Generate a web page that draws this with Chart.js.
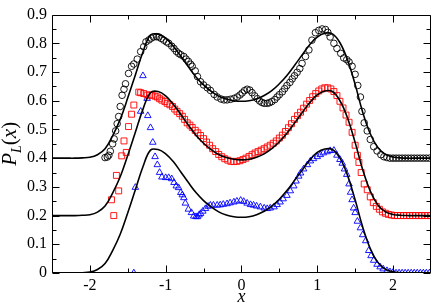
<!DOCTYPE html>
<html>
<head>
<meta charset="utf-8">
<script src="https://cdn.jsdelivr.net/npm/chart.js@4.4.1/dist/chart.umd.min.js"></script>
<style>
html, body { margin: 0; padding: 0; background: #fff; }
</style>
</head>
<body>
<canvas id="chartPL" width="436" height="303"></canvas>
<script>
// tick positions
const xMajor = [-2, -1, 0, 1, 2];
const xMinor = [-1.5, -0.5, 0.5, 1.5];
const yMajor = [0, 0.1, 0.2, 0.3, 0.4, 0.5, 0.6, 0.7, 0.8, 0.9];
const yMinor = [0.05, 0.15, 0.25, 0.35, 0.45, 0.55, 0.65, 0.75, 0.85];

// theory curves (solid lines)
const curveX = [-2.5,-2.4,-2.3,-2.2,-2.1,-2.0,-1.9,-1.8,-1.7,-1.6,-1.5,-1.4,-1.3,-1.2,-1.1,-1.0,-0.9,-0.8,-0.7,-0.6,-0.5,-0.4,-0.3,-0.2,-0.1,0,0.1,0.2,0.3,0.4,0.5,0.6,0.7,0.8,0.9,1.0,1.1,1.2,1.3,1.4,1.5,1.6,1.7,1.8,1.9,2.0,2.1,2.2,2.3,2.4,2.5];
const curveLow = [0,0,0,0,0.001,0.003,0.012,0.033,0.078,0.135,0.21,0.29,0.37,0.428,0.43,0.415,0.388,0.352,0.315,0.28,0.252,0.23,0.213,0.202,0.196,0.194,0.196,0.203,0.215,0.233,0.257,0.287,0.322,0.358,0.393,0.42,0.432,0.43,0.4,0.34,0.255,0.16,0.085,0.037,0.013,0.004,0.001,0,0,0,0];
const curveMid = [0.2,0.2,0.2,0.2,0.201,0.203,0.212,0.233,0.278,0.335,0.41,0.49,0.57,0.628,0.632,0.617,0.588,0.552,0.515,0.48,0.452,0.43,0.413,0.402,0.396,0.394,0.396,0.403,0.415,0.433,0.457,0.487,0.522,0.558,0.593,0.62,0.634,0.632,0.6,0.54,0.455,0.36,0.285,0.237,0.213,0.204,0.201,0.2,0.2,0.2,0.2];
const curveTop = [0.4,0.4,0.4,0.4,0.401,0.403,0.412,0.433,0.478,0.535,0.61,0.69,0.77,0.829,0.832,0.818,0.79,0.755,0.718,0.683,0.655,0.633,0.616,0.606,0.6,0.598,0.6,0.606,0.618,0.635,0.659,0.688,0.723,0.759,0.795,0.822,0.835,0.833,0.802,0.742,0.657,0.56,0.485,0.437,0.413,0.404,0.401,0.4,0.4,0.4,0.4];

// simulation points: black circles
const circX = [-1.80,-1.77,-1.75,-1.73,-1.70,-1.68,-1.66,-1.64,-1.62,-1.60,-1.575,-1.55,-1.53,-1.49,-1.45,-1.42,-1.375,-1.33,-1.29,-1.26,-1.22,-1.19,-1.16,-1.12,-1.09,-1.06,-1.025,-0.99,-0.96,-0.92,-0.89,-0.86,-0.83,-0.80,-0.76,-0.73,-0.70,-0.67,-0.65,-0.61,-0.58,-0.54,-0.50,-0.45,-0.41,-0.36,-0.32,-0.27,-0.23,-0.19,-0.145,-0.10,-0.057,-0.02,0.01,0.04,0.075,0.11,0.14,0.175,0.21,0.24,0.27,0.30,0.34,0.37,0.40,0.44,0.47,0.50,0.54,0.57,0.60,0.64,0.67,0.70,0.735,0.77,0.80,0.845,0.89,0.93,0.976,1.02,1.065,1.11,1.14,1.17,1.22,1.26,1.31,1.35,1.39,1.42,1.46,1.50,1.535,1.57,1.59,1.62,1.66,1.70,1.745,1.79,1.84,1.88,1.92,1.96,2.00,2.04,2.08,2.12,2.16,2.20,2.24,2.28,2.32,2.36,2.40,2.44,2.48];
const circY = [0.402,0.404,0.41,0.424,0.45,0.467,0.495,0.52,0.545,0.58,0.619,0.64,0.659,0.695,0.72,0.728,0.745,0.771,0.788,0.805,0.812,0.818,0.822,0.823,0.822,0.817,0.811,0.805,0.80,0.79,0.782,0.772,0.765,0.76,0.754,0.745,0.737,0.727,0.72,0.704,0.684,0.666,0.655,0.645,0.636,0.622,0.613,0.606,0.603,0.603,0.605,0.608,0.613,0.62,0.627,0.635,0.64,0.637,0.628,0.617,0.607,0.599,0.594,0.591,0.591,0.593,0.597,0.604,0.613,0.621,0.631,0.642,0.653,0.664,0.676,0.687,0.699,0.712,0.73,0.754,0.777,0.811,0.837,0.845,0.85,0.848,0.838,0.822,0.80,0.782,0.765,0.749,0.743,0.735,0.72,0.692,0.653,0.613,0.563,0.523,0.495,0.465,0.44,0.425,0.412,0.405,0.402,0.4,0.4,0.4,0.4,0.4,0.4,0.4,0.4,0.4,0.4,0.4,0.4,0.4,0.4];

// red squares
const sqX = [-1.715,-1.685,-1.65,-1.62,-1.58,-1.55,-1.52,-1.49,-1.45,-1.42,-1.355,-1.33,-1.29,-1.245,-1.21,-1.18,-1.14,-1.11,-1.08,-1.05,-1.01,-0.98,-0.945,-0.91,-0.88,-0.85,-0.815,-0.78,-0.75,-0.716,-0.68,-0.65,-0.61,-0.575,-0.54,-0.50,-0.46,-0.42,-0.38,-0.34,-0.30,-0.26,-0.22,-0.18,-0.14,-0.10,-0.06,-0.02,0.02,0.06,0.10,0.14,0.18,0.22,0.26,0.30,0.34,0.38,0.42,0.46,0.50,0.54,0.58,0.62,0.66,0.70,0.74,0.78,0.82,0.86,0.90,0.94,0.98,1.02,1.06,1.10,1.14,1.18,1.22,1.26,1.30,1.34,1.38,1.42,1.46,1.50,1.53,1.55,1.58,1.62,1.66,1.70,1.74,1.78,1.82,1.86,1.90,1.94,1.98,2.02,2.06,2.10,2.14,2.18,2.22,2.26,2.30,2.34,2.38,2.42,2.46,2.50];
const sqY = [0.255,0.20,0.34,0.286,0.408,0.46,0.42,0.51,0.553,0.585,0.63,0.628,0.625,0.62,0.62,0.619,0.616,0.613,0.607,0.602,0.597,0.591,0.586,0.58,0.571,0.563,0.555,0.546,0.535,0.523,0.515,0.507,0.497,0.488,0.479,0.468,0.456,0.445,0.433,0.423,0.413,0.405,0.398,0.393,0.389,0.388,0.389,0.391,0.395,0.40,0.406,0.412,0.418,0.423,0.428,0.433,0.439,0.445,0.452,0.46,0.47,0.48,0.493,0.506,0.52,0.535,0.548,0.56,0.574,0.588,0.601,0.614,0.625,0.634,0.641,0.645,0.645,0.641,0.632,0.618,0.598,0.575,0.55,0.525,0.49,0.445,0.41,0.385,0.35,0.31,0.29,0.265,0.245,0.232,0.222,0.213,0.208,0.204,0.202,0.2,0.2,0.2,0.2,0.2,0.2,0.2,0.2,0.2,0.2,0.2,0.2,0.2];

// blue triangles
const triX = [-1.42,-1.40,-1.33,-1.30,-1.245,-1.236,-1.20,-1.17,-1.14,-1.11,-1.08,-1.05,-1.0,-0.96,-0.92,-0.89,-0.86,-0.83,-0.80,-0.78,-0.76,-0.74,-0.70,-0.66,-0.63,-0.60,-0.58,-0.56,-0.54,-0.51,-0.475,-0.44,-0.41,-0.37,-0.32,-0.28,-0.24,-0.19,-0.15,-0.10,-0.06,-0.01,0.03,0.075,0.12,0.16,0.20,0.25,0.30,0.34,0.38,0.43,0.47,0.51,0.55,0.60,0.645,0.69,0.72,0.756,0.78,0.82,0.87,0.91,0.95,1.0,1.04,1.08,1.13,1.17,1.22,1.26,1.30,1.33,1.36,1.39,1.42,1.44,1.46,1.48,1.50,1.53,1.57,1.60,1.64,1.68,1.71,1.745,1.79,1.83,1.87,1.92,1.96,2.00,2.04,2.08,2.12,2.16,2.20,2.24,2.28,2.32,2.36,2.40,2.44,2.48];
const triY = [0.0,0.298,0.563,0.687,0.608,0.548,0.506,0.455,0.405,0.377,0.35,0.334,0.332,0.332,0.328,0.315,0.303,0.297,0.28,0.272,0.262,0.243,0.222,0.21,0.198,0.196,0.196,0.202,0.207,0.215,0.224,0.232,0.236,0.236,0.236,0.237,0.239,0.241,0.244,0.247,0.25,0.253,0.249,0.243,0.238,0.236,0.233,0.23,0.226,0.224,0.226,0.23,0.238,0.247,0.258,0.27,0.286,0.303,0.32,0.337,0.348,0.362,0.377,0.39,0.398,0.405,0.412,0.418,0.422,0.426,0.427,0.41,0.395,0.382,0.362,0.343,0.31,0.281,0.255,0.226,0.21,0.18,0.157,0.133,0.112,0.078,0.06,0.044,0.03,0.021,0.014,0.008,0.004,0.002,0,0,0,0,0,0,0,0,0,0,0,0];

const pts = (xs, ys) => xs.map((x, i) => ({x: x, y: ys[i]}));
const serif = "'Liberation Serif', 'Times New Roman', serif";

// inward ticks on all four sides + frame, and the P_L(x) label
const frameTicks = {
  id: 'frameTicks',
  afterDraw(chart) {
    const ctx = chart.ctx;
    const a = chart.chartArea;
    const xs = chart.scales.x, ys = chart.scales.y;
    ctx.save();
    ctx.strokeStyle = '#000';
    ctx.lineWidth = 1;
    ctx.beginPath();
    const L = Math.round(a.left) + 0.5, R = Math.round(a.right) - 0.5;
    const T = Math.round(a.top) + 0.5, B = Math.round(a.bottom) - 0.5;
    ctx.rect(L, T, R - L, B - T);
    const vx = (v, len) => {
      const p = Math.round(xs.getPixelForValue(v)) + 0.5;
      ctx.moveTo(p, B); ctx.lineTo(p, B - len);
      ctx.moveTo(p, T); ctx.lineTo(p, T + len);
    };
    const hy = (v, len) => {
      const p = Math.round(ys.getPixelForValue(v)) + 0.5;
      ctx.moveTo(L, p); ctx.lineTo(L + len, p);
      ctx.moveTo(R, p); ctx.lineTo(R - len, p);
    };
    xMajor.forEach(v => vx(v, 7));
    xMinor.forEach(v => vx(v, 4));
    yMajor.forEach(v => hy(v, 7));
    yMinor.forEach(v => hy(v, 4));
    ctx.stroke();

    // y axis title  P_L(x)
    ctx.fillStyle = '#000';
    ctx.textBaseline = 'alphabetic';
    const big = 'italic 21px ' + serif;
    const sub = 'italic 14px ' + serif;
    const up = '21px ' + serif;
    const parts = [
      [big, 'P', 0], [sub, 'L', 5], [up, '(', 0], [big, 'x', 0], [up, ')', 0]
    ];
    let w = 0;
    parts.forEach(p => { ctx.font = p[0]; w += ctx.measureText(p[1]).width; });
    ctx.translate(16, (a.top + a.bottom) / 2);
    ctx.rotate(-Math.PI / 2);
    let cx = -w / 2;
    parts.forEach(p => {
      ctx.font = p[0];
      ctx.fillText(p[1], cx, p[2]);
      cx += ctx.measureText(p[1]).width;
    });
    ctx.restore();
  }
};

new Chart(document.getElementById('chartPL').getContext('2d'), {
  type: 'scatter',
  data: {
    datasets: [
      { label: 'theory top', data: pts(curveX, curveTop), showLine: true, pointRadius: 0, borderColor: '#000', borderWidth: 1.6, tension: 0.4, order: 1 },
      { label: 'theory mid', data: pts(curveX, curveMid), showLine: true, pointRadius: 0, borderColor: '#000', borderWidth: 1.6, tension: 0.4, order: 1 },
      { label: 'theory low', data: pts(curveX, curveLow), showLine: true, pointRadius: 0, borderColor: '#000', borderWidth: 1.6, tension: 0.4, order: 1 },
      { label: 'circles', data: pts(circX, circY), pointStyle: 'circle', pointRadius: 3.3, borderColor: '#000', backgroundColor: 'rgba(0,0,0,0)', borderWidth: 0.9, order: 2 },
      { label: 'squares', data: pts(sqX, sqY), pointStyle: 'rect', pointRadius: 4.2, borderColor: '#ff0000', backgroundColor: 'rgba(0,0,0,0)', borderWidth: 0.9, order: 2 },
      { label: 'triangles', data: pts(triX, triY), pointStyle: 'triangle', pointRadius: 3.8, borderColor: '#0000ff', backgroundColor: 'rgba(0,0,0,0)', borderWidth: 0.9, order: 2 }
    ]
  },
  options: {
    responsive: false,
    animation: false,
    devicePixelRatio: 1,
    layout: { padding: { top: 7, right: 4, left: 0, bottom: 0 } },
    plugins: { legend: { display: false }, tooltip: { enabled: false } },
    scales: {
      x: {
        type: 'linear',
        min: -2.5,
        max: 2.5,
        afterBuildTicks: s => { s.ticks = xMajor.map(v => ({value: v})); },
        afterFit: s => { s.height = 30; },
        grid: { display: false, drawTicks: false },
        border: { display: false },
        ticks: { color: '#000', font: { family: serif, size: 16 }, padding: 3, maxRotation: 0 },
        title: { display: true, text: 'x', color: '#000', font: { family: serif, size: 18, style: 'italic' }, padding: { top: 0, bottom: -5 } }
      },
      y: {
        min: 0,
        max: 0.9,
        afterBuildTicks: s => { s.ticks = yMajor.map(v => ({value: v})); },
        afterFit: s => { s.width = 52; },
        grid: { display: false, drawTicks: false },
        border: { display: false },
        ticks: { color: '#000', font: { family: serif, size: 16 }, padding: 5, callback: v => String(Math.round(v * 10) / 10) }
      }
    }
  },
  plugins: [frameTicks]
});
</script>
</body>
</html>
